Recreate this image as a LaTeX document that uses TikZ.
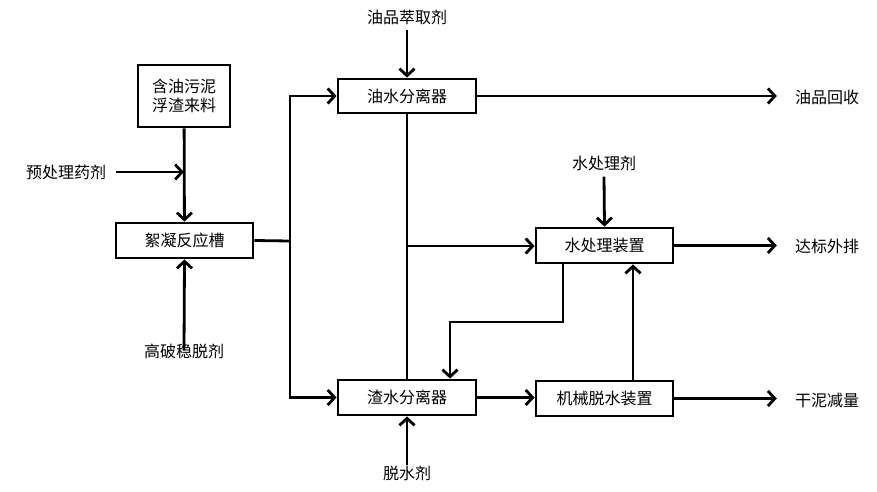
\documentclass[tikz,border=0pt]{standalone}
\usepackage{fontspec}
\setmainfont{Noto Sans CJK SC}
\usetikzlibrary{arrows.meta}
\begin{document}
\begin{tikzpicture}[x=1pt,y=-1pt,
  every node/.style={font=\fontsize{16}{20}\selectfont, inner sep=2pt},
  box/.style={draw, line width=2.8pt, minimum width=137pt, minimum height=35pt, align=center},
  lbl/.style={},
  conn/.style={line width=2.8pt},
  arr/.style={line width=2.8pt, -{Straight Barb[length=7pt,width=15pt]}}]
\useasboundingbox (0,0) rectangle (877,491);
% boxes
\node[box, minimum width=92pt, minimum height=62pt] (feed) at (184,96) {含油污泥\\[-1pt]浮渣来料};
\node[box] (floc) at (184.5,240.5) {絮凝反应槽};
\node[box, minimum width=138pt, minimum height=34pt] (oil) at (407,96) {油水分离器};
\node[box] (water) at (604.5,245.5) {水处理装置};
\node[box, minimum width=138pt] (slag) at (407,397.5) {渣水分离器};
\node[box] (mech) at (604.5,398.5) {机械脱水装置};
% labels
\node[lbl] (pre) at (66,172) {预处理药剂};
\node[lbl] (gaopo) at (184,351) {高破稳脱剂};
\node[lbl] (ext) at (407,17) {油品萃取剂};
\node[lbl] (wtr) at (604,163) {水处理剂};
\node[lbl] (tuo) at (407,473) {脱水剂};
\node[lbl] (out1) at (827,97) {油品回收};
\node[lbl] (out2) at (827,246) {达标外排};
\node[lbl] (out3) at (827,400) {干泥减量};
% junctions
\coordinate (pj) at (184,172);
\coordinate (j1) at (290,241);
\coordinate (j2) at (407,246);
\coordinate (r1) at (563,322);
\coordinate (r2) at (450,322);
\coordinate (u) at (633,0);
% connectors
\draw[arr] (feed) -- (floc);
\draw[arr] ([xshift=8pt]pre.east) -- (pj);
\draw[arr] ([yshift=-9pt]gaopo.north) -- (floc.south);
\draw[conn] (floc.east) -- (j1);
\draw[arr] (j1) |- (oil.west);
\draw[arr] (j1) |- (slag.west);
\draw[arr] ([yshift=-3pt]ext.south) -- (oil.north);
\draw[arr, shorten >=16pt] (oil.east) -- (oil.east -| out1.west);
\draw[conn] (oil.south) -- (slag.north);
\draw[arr] (j2) -- (j2 -| water.west);
\draw[arr] ([yshift=-4pt]wtr.south) -- (water.north);
\draw[arr, shorten >=16pt] (water.east) -- (water.east -| out2.west);
\draw[arr] (water.south -| r1) -- (r1) -- (r2) -- (slag.north -| r2);
\draw[arr] (slag.east) -- (slag.east -| mech.west);
\draw[arr] (mech.north -| u) -- (water.south -| u);
\draw[arr, shorten >=16pt] (mech.east) -- (mech.east -| out3.west);
\draw[arr] ([yshift=-2pt]tuo.north) -- (slag.south);
\end{tikzpicture}
\end{document}
